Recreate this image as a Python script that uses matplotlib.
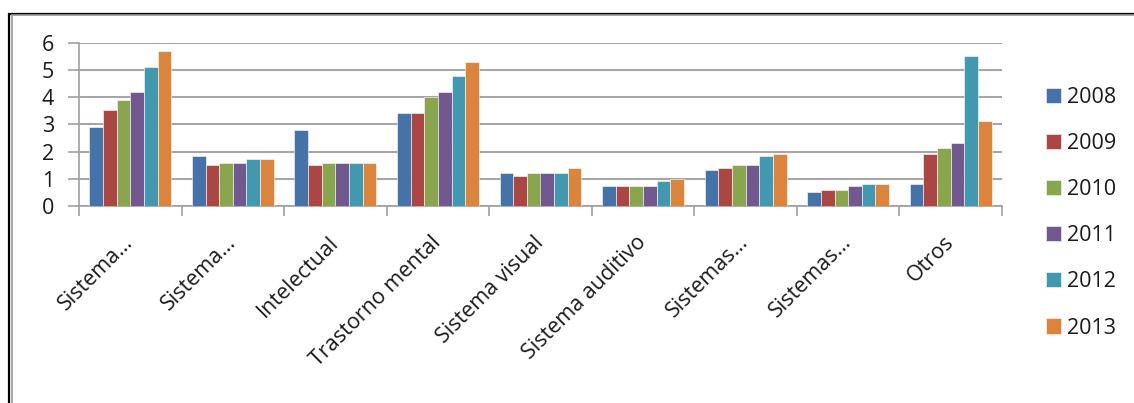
import numpy as np
import matplotlib.pyplot as plt
from matplotlib.patches import Rectangle

# categorias y valores por año
categorias = ['Sistema…', 'Sistema…', 'Intelectual', 'Trastorno mental',
              'Sistema visual', 'Sistema auditivo', 'Sistemas…', 'Sistemas…', 'Otros']
anios = ['2008', '2009', '2010', '2011', '2012', '2013']
v2008 = [2.9, 1.82, 2.8, 3.4, 1.23, 0.72, 1.31, 0.5, 0.82]
v2009 = [3.53, 1.5, 1.5, 3.4, 1.09, 0.72, 1.41, 0.59, 1.9]
v2010 = [3.89, 1.58, 1.58, 4.0, 1.23, 0.72, 1.5, 0.59, 2.12]
v2011 = [4.2, 1.58, 1.58, 4.2, 1.23, 0.72, 1.5, 0.72, 2.31]
v2012 = [5.1, 1.72, 1.58, 4.79, 1.23, 0.91, 1.82, 0.82, 5.51]
v2013 = [5.69, 1.72, 1.58, 5.29, 1.4, 0.98, 1.9, 0.82, 3.12]
series = [v2008, v2009, v2010, v2011, v2012, v2013]
colores = ['#4572A7', '#AA4643', '#89A54E', '#71588F', '#4198AF', '#DB843D']

plt.rcParams['font.family'] = ['Open Sans', 'DejaVu Sans']

fig = plt.figure(figsize=(11.34, 4.03), dpi=100)
ax = fig.add_axes([79 / 1134, 1 - 206 / 403, (1002 - 79) / 1134, (206 - 42.7) / 403])

x = np.arange(len(categorias))
ancho = 0.133
for i, (vals, c) in enumerate(zip(series, colores)):
    ax.bar(x + (i - 2.5) * ancho, vals, ancho, color=c, label=anios[i],
           edgecolor='white', linewidth=0.4, zorder=3)

ax.set_xlim(-0.5, len(categorias) - 0.5)
ax.set_ylim(0, 6)
ax.set_yticks(range(7))
ax.yaxis.grid(True, color='#a6a6a6', linewidth=1.5, zorder=0)

ax.set_xticks(x)
ax.set_xticklabels(categorias, rotation=45, ha='right', va='center',
                   rotation_mode='anchor', fontsize=15.5, color='#1a1a1a')
ax.set_xticks(np.arange(-0.5, len(categorias)), minor=True)
ax.tick_params(axis='x', which='major', length=0, pad=24)
ax.tick_params(axis='x', which='minor', length=7, color='#a0a0a0', width=1.2)
ax.tick_params(axis='y', length=8, color='#a0a0a0', width=1.2, pad=10,
               labelsize=15.5, labelcolor='#1a1a1a')

for s in ['top', 'right']:
    ax.spines[s].set_visible(False)
for s in ['left', 'bottom']:
    ax.spines[s].set_color('#a0a0a0')
    ax.spines[s].set_linewidth(1.2)

leg = fig.legend(loc='upper left', bbox_to_anchor=(1037 / 1134, 1 - 78 / 403),
                 frameon=False, fontsize=15.5, handlelength=0.7, handleheight=0.7,
                 handletextpad=0.3, labelspacing=1.17, borderaxespad=0)
for t in leg.get_texts():
    t.set_color('#1a1a1a')

# marco del grafico
fig.patches.append(Rectangle((9 / 1134, -0.2), 1.2, 1.2 - 13.5 / 403,
                             transform=fig.transFigure, fill=False,
                             edgecolor='black', linewidth=1.6))
fig.patches.append(Rectangle((11.5 / 1134, -0.2), 1.2, 1.2 - 15.3 / 403,
                             transform=fig.transFigure, fill=False,
                             edgecolor='#9a9a9a', linewidth=1.2))

fig.savefig('out.png', dpi=100)
